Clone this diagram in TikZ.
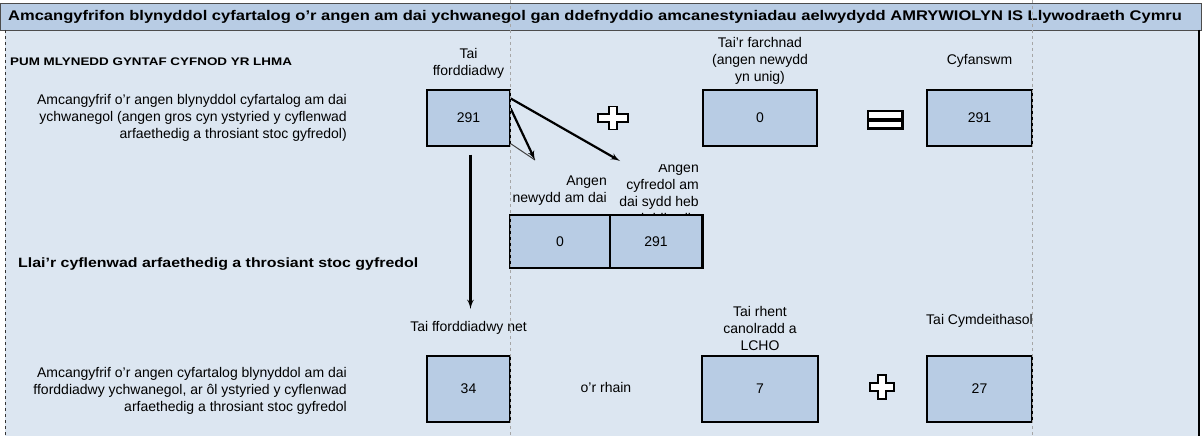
\documentclass[tikz,border=0pt]{standalone}
\usepackage{graphicx}
\usepackage{fontspec}
\setmainfont{Liberation Sans}
\usetikzlibrary{arrows,positioning,calc}
\definecolor{panelblue}{HTML}{DCE6F1}
\definecolor{boxblue}{HTML}{B8CCE4}
\definecolor{breakgray}{HTML}{A6A6A6}

\newcommand{\bodyfont}{\fontsize{14}{17}\selectfont}
\newcommand{\wide}[2]{\scalebox{#1}[1]{#2}}
\newcommand{\plussign}[4]{% centre x, centre y, half width, half height
  \filldraw[fill=white,draw=black,line width=1.4pt]
    (#1-#4/3,#2-#4) -- (#1+#4/3,#2-#4) -- (#1+#4/3,#2-#4/3) -- (#1+#3,#2-#4/3)
    -- (#1+#3,#2+#4/3) -- (#1+#4/3,#2+#4/3) -- (#1+#4/3,#2+#4) -- (#1-#4/3,#2+#4)
    -- (#1-#4/3,#2+#4/3) -- (#1-#3,#2+#4/3) -- (#1-#3,#2-#4/3) -- (#1-#4/3,#2-#4/3) -- cycle;}

\begin{document}
\begin{tikzpicture}[x=1pt,y=-1pt,>=latex',
    valbox/.style={draw,fill=boxblue,line width=1.2pt,inner sep=0pt,font=\bodyfont},
    lbl/.style={align=center,inner sep=0pt,font=\bodyfont},
    note/.style={align=right,inner sep=0pt,font=\bodyfont},
    arr/.style={->,line width=2.2pt}]
  \useasboundingbox (0,0) rectangle (1203,436);

  % sheet background and title bar
  \fill[white] (0,0) rectangle (1203,436);
  \fill[panelblue] (5,30) rectangle (1199,436);
  \filldraw[fill=boxblue,draw=black!70] (0,3) rectangle (1201,30);
  \draw[black!80,line width=1pt,dashed] (5,30) -- (5,436);
  \draw[black,line width=2pt] (1199,30) -- (1199,436);
  \node (title) [anchor=west,inner sep=0pt,font=\fontsize{14}{16}\bfseries] at (8,17)
    {\wide{1.18}{Amcangyfrifon blynyddol cyfartalog o'r angen am dai ychwanegol gan ddefnyddio amcanestyniadau aelwydydd AMRYWIOLYN IS Llywodraeth Cymru}};

  % top row
  \node (period) [anchor=west,inner sep=0pt,font=\fontsize{11}{12}\bfseries] at (10,62)
    {\wide{1.22}{PUM MLYNEDD GYNTAF CYFNOD YR LHMA}};
  \node (gross) [note,anchor=east] at (347,118)
    {Amcangyfrif o'r angen blynyddol cyfartalog am dai\\
     ychwanegol (angen gros cyn ystyried y cyflenwad\\
     arfaethedig a throsiant stoc gyfredol)};
  \node (afford) [valbox,minimum width=83pt,minimum height=56pt] at (468.5,118) {291};
  \node (market) [valbox,minimum width=114pt,minimum height=56pt] at (760,118) {0};
  \node (total) [valbox,minimum width=105pt,minimum height=56pt] at (979.5,118) {291};
  \node (affordlbl) [lbl,above=11pt of afford] {Tai\\fforddiadwy};
  \node (marketlbl) [lbl,above=5pt of market] {Tai'r farchnad\\(angen newydd\\yn unig)};
  \node (totallbl) [lbl,above=22pt of total] {Cyfanswm};
  \plussign{613}{118}{15}{11.5}
  \filldraw[black] (867,110) rectangle (903,129);
  \fill[white] (869,112) rectangle (901,117.5);
  \fill[white] (869,121.5) rectangle (901,127);

  % split of the affordable need
  \node (newneed) [valbox,minimum width=100pt,minimum height=53pt] at (560,241.5) {0};
  \node (backlog) [valbox,minimum width=92pt,minimum height=53pt] at (656,241.5) {291};
  \draw[line width=2pt] (backlog.north east) -- (backlog.south east);
  \node (newlbl) [note,anchor=east] at (607,191) {Angen\\newydd am dai};
  \begin{scope}
    \clip (611,164) rectangle (703,214);
    \node (backloglbl) [note,anchor=east] at (699,193)
      {Angen\\cyfredol am\\dai sydd heb\\ei ddiwallu};
  \end{scope}
  \coordinate (tipnew) at (535,160);
  \coordinate (tipold) at (620,161);
  \draw[black!75,line width=1pt] ($(afford.south east)+(0,-3)$) -- (tipnew);
  \draw[arr] ($(afford.north east)+(0,19)$) -- (tipnew);
  \draw[arr] ($(afford.north east)+(0,9)$) -- (tipold);

  \node (supply) [anchor=west,inner sep=0pt,font=\fontsize{13.5}{15}\bfseries] at (18,264)
    {\wide{1.18}{Llai'r cyflenwad arfaethedig a throsiant stoc gyfredol}};

  % bottom row
  \node (net) [valbox,minimum width=83pt,minimum height=66pt] at (468.5,389) {34};
  \node (inter) [valbox,minimum width=116pt,minimum height=66pt] at (760,389) {7};
  \node (social) [valbox,minimum width=105pt,minimum height=66pt] at (979.5,389) {27};
  \node (netlbl) [lbl,above=21pt of net] {Tai fforddiadwy net};
  \node (interlbl) [lbl,above=5pt of inter] {Tai rhent\\canolradd a\\LCHO};
  \node (sociallbl) [lbl,above=28pt of social] {Tai Cymdeithasol};
  \node (ofwhich) [lbl] at (606,387) {o'r rhain};
  \node (netnote) [note,anchor=east] at (347,391)
    {Amcangyfrif o'r angen cyfartalog blynyddol am dai\\
     fforddiadwy ychwanegol, ar ôl ystyried y cyflenwad\\
     arfaethedig a throsiant stoc gyfredol};
  \plussign{882}{387}{12}{12}
  \draw[arr] ($(afford.south)+(2,8)$) -- ($(netlbl.north)+(2,-12)$);

  % page breaks
  \draw[breakgray,line width=1pt,dashed] (510,0) -- (510,436);
  \draw[breakgray,line width=1pt,dashed] (1032,0) -- (1032,436);
\end{tikzpicture}
\end{document}
